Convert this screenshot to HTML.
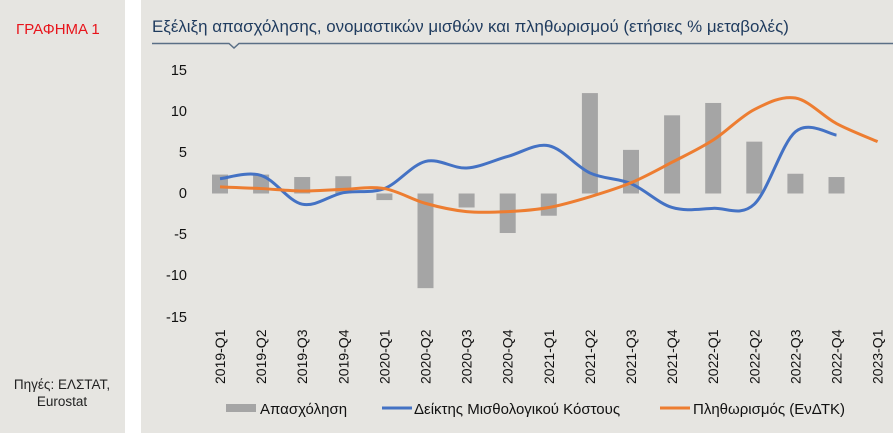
<!DOCTYPE html>
<html><head><meta charset="utf-8"><style>
html,body{margin:0;padding:0;background:#fff;}
body{width:893px;height:433px;overflow:hidden;font-family:"Liberation Sans",sans-serif;}
</style></head><body>
<svg width="893" height="433" viewBox="0 0 893 433" xmlns="http://www.w3.org/2000/svg" font-family="Liberation Sans, sans-serif">
<rect x="0" y="0" width="125" height="433" fill="#e6e5e1"/>
<rect x="141" y="0" width="752" height="433" fill="#e6e5e1"/>
<text x="16" y="34" font-size="15" fill="#e8141b">ΓΡΑΦΗΜΑ 1</text>
<text x="62" y="389" font-size="13.5" fill="#222" text-anchor="middle">Πηγές: ΕΛΣΤΑΤ,</text>
<text x="62" y="406" font-size="13.5" fill="#222" text-anchor="middle">Eurostat</text>
<text x="152" y="32" font-size="16.9" fill="#1f3b5e">Εξέλιξη απασχόλησης, ονομαστικών μισθών και πληθωρισμού (ετήσιες % μεταβολές)</text>
<polyline points="152,43.5 229,43.5 234,48 239,43.5 893,43.5" fill="none" stroke="#5a6f86" stroke-width="1.5"/>
<g font-size="14.5" fill="#111" text-anchor="end">
<text x="187" y="75">15</text><text x="187" y="116">10</text><text x="187" y="157">5</text>
<text x="187" y="198">0</text><text x="187" y="239">-5</text><text x="187" y="280">-10</text><text x="187" y="322">-15</text>
</g>
<g id="plot"></g>
<g font-size="14" fill="#111" id="xl"></g>
<rect x="226" y="404" width="30" height="8" fill="#a5a5a5"/>
<text x="260" y="414" font-size="15" fill="#111">Απασχόληση</text>
<line x1="382" y1="408" x2="412" y2="408" stroke="#4472c4" stroke-width="3"/>
<text x="414" y="414" font-size="15" fill="#111">Δείκτης Μισθολογικού Κόστους</text>
<line x1="660" y1="408" x2="690" y2="408" stroke="#ed7d31" stroke-width="3"/>
<text x="693" y="414" font-size="15" fill="#111">Πληθωρισμός (ΕνΔΤΚ)</text>
</svg>
<script>
var ns="http://www.w3.org/2000/svg";
var X=i=>220+i*41.1, Y=v=>193.5-v*8.23;
var labs=["2019-Q1","2019-Q2","2019-Q3","2019-Q4","2020-Q1","2020-Q2","2020-Q3","2020-Q4","2021-Q1","2021-Q2","2021-Q3","2021-Q4","2022-Q1","2022-Q2","2022-Q3","2022-Q4","2023-Q1"];
var bars=[2.3,2.3,2.0,2.1,-0.8,-11.5,-1.7,-4.8,-2.7,12.2,5.3,9.5,11.0,6.3,2.4,2.0];
var blue=[1.8,2.2,-1.3,0.1,0.6,3.9,3.1,4.5,5.8,2.5,1.2,-1.7,-1.8,-1.3,7.5,7.1];
var orng=[0.8,0.6,0.3,0.5,0.6,-1.2,-2.2,-2.2,-1.7,-0.4,1.3,3.8,6.5,10.2,11.6,8.5,6.3];
var p=document.getElementById("plot"),xl=document.getElementById("xl");
bars.forEach((v,i)=>{var r=document.createElementNS(ns,"rect");r.setAttribute("x",X(i)-8);r.setAttribute("width",16);
r.setAttribute("y",Math.min(Y(v),Y(0)));r.setAttribute("height",Math.abs(Y(v)-Y(0)));r.setAttribute("fill","#a5a5a5");p.appendChild(r);});
function smooth(a,col){var pts=a.map((v,i)=>[X(i),Y(v)]);var d="M"+pts[0];
for(var i=0;i<pts.length-1;i++){var p0=pts[i-1]||pts[i],p1=pts[i],p2=pts[i+1],p3=pts[i+2]||p2;
d+=" C"+(p1[0]+(p2[0]-p0[0])/6)+","+(p1[1]+(p2[1]-p0[1])/6)+" "+(p2[0]-(p3[0]-p1[0])/6)+","+(p2[1]-(p3[1]-p1[1])/6)+" "+p2;}
var e=document.createElementNS(ns,"path");e.setAttribute("d",d);e.setAttribute("fill","none");e.setAttribute("stroke",col);e.setAttribute("stroke-width","3");p.appendChild(e);}
smooth(blue,"#4472c4");smooth(orng,"#ed7d31");
labs.forEach((l,i)=>{var t=document.createElementNS(ns,"text");t.setAttribute("transform","translate("+(X(i)+5)+",384) rotate(-90)");t.textContent=l;xl.appendChild(t);});
</script>
</body></html>
